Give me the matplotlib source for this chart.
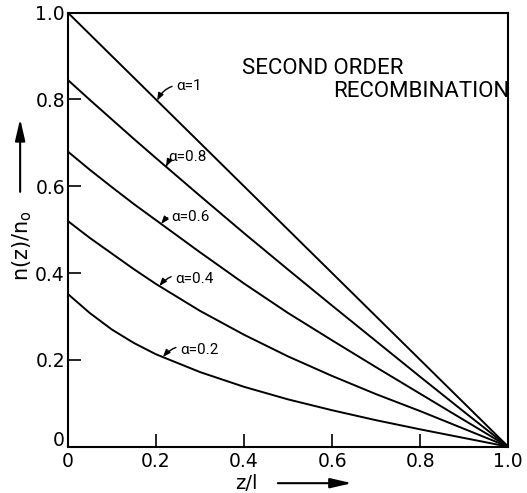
import numpy as np
import matplotlib
matplotlib.use('Agg')
import matplotlib.pyplot as plt
import matplotlib.transforms as mtransforms

# z/l positions where n(z)/n0 was tabulated
z = [0, 0.05, 0.1, 0.15, 0.2, 0.3, 0.4, 0.5, 0.6, 0.7, 0.8, 0.9, 1.0]

# n(z)/n0 for each recombination parameter alpha
n_a10 = [1.0, 0.95, 0.9, 0.85, 0.8, 0.7, 0.6, 0.5, 0.4, 0.3, 0.2, 0.1, 0.0]
n_a08 = [0.845, 0.799, 0.754, 0.709, 0.665, 0.578, 0.492, 0.408, 0.325, 0.243, 0.161, 0.080, 0.0]
n_a06 = [0.68, 0.638, 0.598, 0.559, 0.522, 0.448, 0.376, 0.308, 0.245, 0.183, 0.122, 0.061, 0.0]
n_a04 = [0.52, 0.481, 0.445, 0.409, 0.375, 0.313, 0.258, 0.208, 0.163, 0.121, 0.082, 0.041, 0.0]
n_a02 = [0.352, 0.308, 0.27, 0.239, 0.213, 0.172, 0.138, 0.109, 0.084, 0.061, 0.040, 0.020, 0.0]

curves = [n_a10, n_a08, n_a06, n_a04, n_a02]
alpha_labels = ['α=1', 'α=0.8', 'α=0.6', 'α=0.4', 'α=0.2']

ticks = [0, 0.2, 0.4, 0.6, 0.8, 1.0]
tick_labels = ['0', '0.2', '0.4', '0.6', '0.8', '1.0']

# where each curve label sits: (z of the leader tip, text x, text y)
label_pos = [(0.203, 0.246, 0.830),
             (0.223, 0.229, 0.668),
             (0.212, 0.236, 0.528),
             (0.208, 0.244, 0.387),
             (0.216, 0.255, 0.222)]

fig = plt.figure(figsize=(5.27, 4.93), dpi=100)
ax = fig.add_axes([0.1285, 0.0939, 0.836, 0.8807])

for n in curves:
    ax.plot(z, n, color='black', lw=1.4, solid_capstyle='round', solid_joinstyle='round')

for n, lab, (zt, tx, ty) in zip(curves, alpha_labels, label_pos):
    yt = np.interp(zt, z, n)
    ax.annotate(lab, xy=(zt, yt), xytext=(tx, ty),
                fontsize=11, family='Roboto', va='center', ha='left',
                arrowprops=dict(arrowstyle='-|>,head_length=0.4,head_width=0.15',
                                color='black', lw=1.0, shrinkA=1, shrinkB=0,
                                connectionstyle='arc3,rad=0.4'))

ax.text(0.396, 0.871, 'SECOND ORDER', fontsize=16, family='Roboto', va='center', ha='left')
ax.text(0.602, 0.819, 'RECOMBINATION', fontsize=16, family='Roboto', va='center', ha='left')

ax.set_xlim(0, 1)
ax.set_ylim(0, 1)
ax.set_xticks(ticks)
ax.set_xticklabels(tick_labels)
ax.set_yticks(ticks)
ax.set_yticklabels(tick_labels)
ax.tick_params(direction='in', length=9.5, width=1.2, labelsize=13.5, colors='black')
ax.tick_params(axis='x', pad=4)
ax.tick_params(axis='y', pad=2)
for s in ax.spines.values():
    s.set_linewidth(1.5)

# lift the y "0" off the corner so it clears the x "0"
ylab0 = ax.get_yticklabels()[0]
ylab0.set_transform(ylab0.get_transform() +
                    mtransforms.ScaledTranslation(0, 6 / 72, fig.dpi_scale_trans))

# axis labels with arrows
ax.text(-0.104, 0.464, 'n(z)/n$_\\mathregular{o}$', rotation=90, fontsize=15,
        transform=ax.transAxes, ha='center', va='center')
ax.annotate('', xy=(-0.108, 0.755), xytext=(-0.108, 0.587), xycoords='axes fraction',
            arrowprops=dict(arrowstyle='-|>,head_length=0.65,head_width=0.15',
                            color='black', lw=1.5, mutation_scale=20, shrinkA=0, shrinkB=0),
            annotation_clip=False)
ax.text(0.405, -0.084, 'z/l', fontsize=14, transform=ax.transAxes, ha='center', va='center')
ax.annotate('', xy=(0.645, -0.084), xytext=(0.477, -0.084), xycoords='axes fraction',
            arrowprops=dict(arrowstyle='-|>,head_length=0.65,head_width=0.15',
                            color='black', lw=1.5, mutation_scale=20, shrinkA=0, shrinkB=0),
            annotation_clip=False)

plt.savefig('out.png', dpi=100)
